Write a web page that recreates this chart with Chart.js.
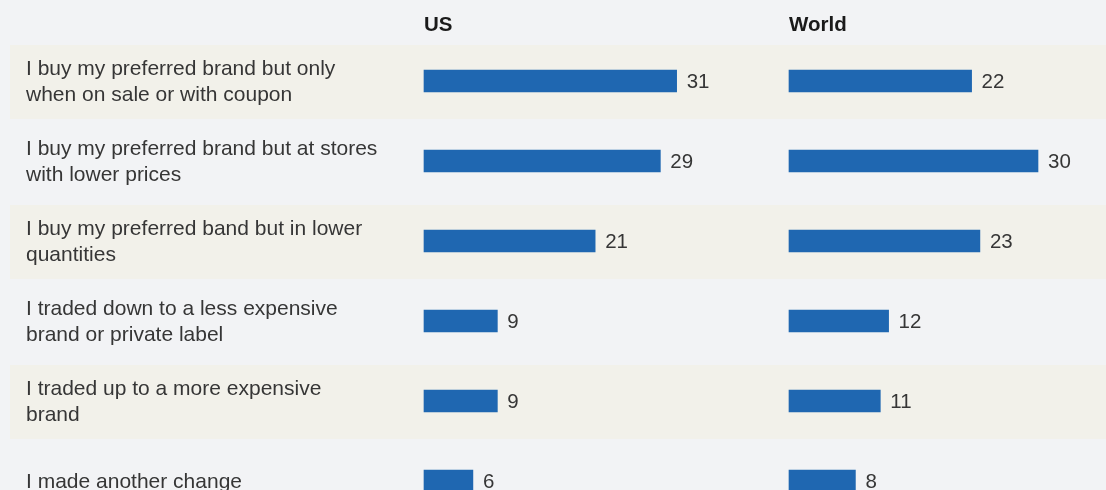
<!DOCTYPE html>
<html>
<head>
<meta charset="utf-8">
<script src="https://cdn.jsdelivr.net/npm/chart.js@4/dist/chart.umd.min.js"></script>
<style>
  html, body { margin: 0; padding: 0; background: #f2f3f5; overflow: hidden; }
  #wrap { position: relative; width: 1106px; height: 530px; }
</style>
</head>
<body>
<div id="wrap"><canvas id="chart"></canvas></div>
<script>
const categories = [
  ["I buy my preferred brand but only", "when on sale or with coupon"],
  ["I buy my preferred brand but at stores", "with lower prices"],
  ["I buy my preferred band but in lower", "quantities"],
  ["I traded down to a less expensive", "brand or private label"],
  ["I traded up to a more expensive", "brand"],
  ["I made another change"]
];
const usValues = [31, 29, 21, 9, 9, 6];
const worldValues = [22, 30, 23, 12, 11, 8];
const panelTitles = ["US", "World"];

const BAR_COLOR = "#1f67b1";
const TEXT_COLOR = "#363636";
const BAND_COLOR = "#f2f1ea";
const FONT = "'Liberation Sans', Arial, Helvetica, sans-serif";

const W = 1106;
const usZero = 424, worldZero = 789;
const usPx = 8.15, worldPx = 8.3;

function rangeFor(zero, px){
  const min = -zero / px;
  return { min: min, max: min + W / px };
}
const usRange = rangeFor(usZero, usPx);
const worldRange = rangeFor(worldZero, worldPx);

// alternating beige bands + category text
const rowsPlugin = {
  id: "rows",
  beforeDatasetsDraw(chart){
    const ctx = chart.ctx;
    const y = chart.scales.y;
    ctx.save();
    categories.forEach((lines, i) => {
      const cy = y.getPixelForTick(i);
      if(i % 2 === 0){
        ctx.fillStyle = BAND_COLOR;
        ctx.fillRect(10, cy - 36, W - 10, 74);
      }
      ctx.fillStyle = TEXT_COLOR;
      ctx.font = "21px " + FONT;
      ctx.textBaseline = "middle";
      ctx.textAlign = "left";
      const lh = 26;
      const start = cy + 1 - (lines.length - 1) * lh / 2;
      lines.forEach((ln, j) => ctx.fillText(ln, 26, start + j * lh));
    });
    ctx.restore();
  },
  afterDatasetsDraw(chart){
    const ctx = chart.ctx;
    ctx.save();
    ctx.fillStyle = TEXT_COLOR;
    ctx.font = "20.5px " + FONT;
    ctx.textBaseline = "middle";
    ctx.textAlign = "left";
    chart.data.datasets.forEach((ds, di) => {
      chart.getDatasetMeta(di).data.forEach((bar, i) => {
        ctx.fillText(String(ds.data[i]), bar.x + 10, bar.y + 1);
      });
    });
    // panel headers
    ctx.font = "bold 20.5px " + FONT;
    ctx.fillStyle = "#1a1a1a";
    ctx.fillText(panelTitles[0], chart.scales.xUS.getPixelForValue(0), 25);
    ctx.fillText(panelTitles[1], chart.scales.xW.getPixelForValue(0), 25);
    ctx.restore();
  }
};

new Chart(document.getElementById("chart"), {
  type: "bar",
  data: {
    labels: categories,
    datasets: [
      { label: panelTitles[0], data: usValues, xAxisID: "xUS", backgroundColor: BAR_COLOR, barThickness: 22, grouped: false },
      { label: panelTitles[1], data: worldValues, xAxisID: "xW", backgroundColor: BAR_COLOR, barThickness: 22, grouped: false }
    ]
  },
  options: {
    indexAxis: "y",
    responsive: true,
    maintainAspectRatio: false,
    animation: false,
    layout: { padding: { top: 41, bottom: 9, left: 0, right: 0 } },
    plugins: { legend: { display: false }, tooltip: { enabled: false } },
    scales: {
      y: { display: false, offset: true },
      xUS: { type: "linear", display: false, min: usRange.min, max: usRange.max },
      xW: { type: "linear", display: false, min: worldRange.min, max: worldRange.max }
    }
  },
  plugins: [rowsPlugin]
});
</script>
</body>
</html>
